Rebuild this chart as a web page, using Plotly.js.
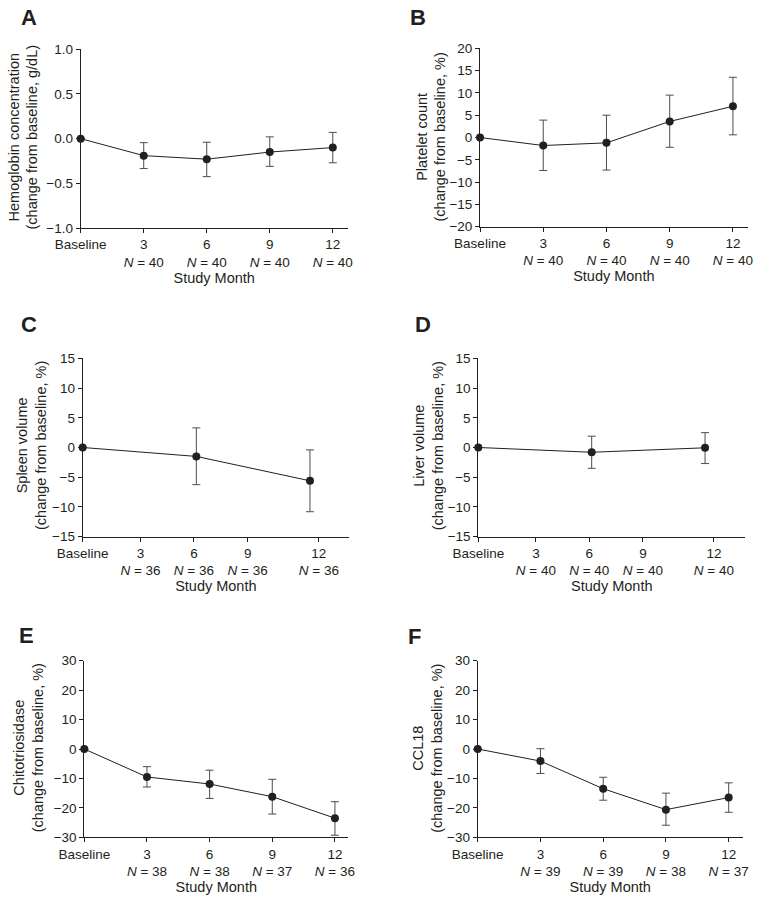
<!DOCTYPE html>
<html>
<head>
<meta charset="utf-8">
<script src="https://cdn.plot.ly/plotly-3.0.1.min.js"></script>
<style>html,body{margin:0;padding:0;background:#fff;}#chart{width:762px;height:901px;}</style>
</head>
<body>
<div id="chart"></div>
<script>
// ---------- data ----------
const monthsA = [0, 3, 6, 9, 12];
const monthsC = [0, 6, 12];

const tickMonths = ['Baseline', '3', '6', '9', '12'];
const nA = [null, 40, 40, 40, 40];
const nB = [null, 40, 40, 40, 40];
const nC = [null, 36, 36, 36, 36];
const nD = [null, 40, 40, 40, 40];
const nE = [null, 38, 38, 37, 36];
const nF = [null, 39, 39, 38, 37];

// Hemoglobin (g/dL change)
const hbMean = [0, -0.19, -0.23, -0.15, -0.10];
const hbHi   = [0, -0.045, -0.04, 0.02, 0.07];
const hbLo   = [0, -0.335, -0.425, -0.31, -0.27];
// Platelet (% change)
const pltMean = [0, -1.8, -1.2, 3.6, 7.0];
const pltHi   = [0, 3.9, 5.0, 9.5, 13.5];
const pltLo   = [0, -7.4, -7.3, -2.2, 0.6];
// Spleen volume (% change)
const splMean = [0, -1.5, -5.6];
const splHi   = [0, 3.3, -0.4];
const splLo   = [0, -6.25, -10.8];
// Liver volume (% change)
const livMean = [0, -0.8, -0.05];
const livHi   = [0, 1.9, 2.5];
const livLo   = [0, -3.5, -2.7];
// Chitotriosidase (% change)
const chiMean = [0, -9.5, -11.9, -16.2, -23.5];
const chiHi   = [0, -6.0, -7.2, -10.3, -17.9];
const chiLo   = [0, -12.9, -16.8, -22.1, -29.3];
// CCL18 (% change)
const cclMean = [0, -4.1, -13.5, -20.6, -16.5];
const cclHi   = [0, 0.1, -9.6, -15.0, -11.5];
const cclLo   = [0, -8.3, -17.4, -25.9, -21.5];

const yTitles = [
  'Hemoglobin concentration<br>(change from baseline, g/dL)',
  'Platelet count<br>(change from baseline, %)',
  'Spleen volume<br>(change from baseline, %)',
  'Liver volume<br>(change from baseline, %)',
  'Chitotriosidase<br>(change from baseline, %)',
  'CCL18<br>(change from baseline, %)'
];
const panelLetters = ['A', 'B', 'C', 'D', 'E', 'F'];

// ---------- styling ----------
const FONT = 'Liberation Sans, Arial, Helvetica, sans-serif';
const TXT = '#231f20';
const W = 762, H = 901;

function tickText(ns) {
  return tickMonths.map((m, i) => ns[i] == null ? m : m + '<br><i>N</i> = ' + ns[i]);
}

function trace(x, mean, hi, lo, xa, ya) {
  return {
    type: 'scatter', mode: 'lines+markers', x: x, y: mean,
    xaxis: xa, yaxis: ya, cliponaxis: false, showlegend: false,
    line: {color: TXT, width: 1},
    marker: {color: TXT, size: 8},
    error_y: {
      type: 'data', symmetric: false,
      array: hi.map((v, i) => v - mean[i]),
      arrayminus: mean.map((v, i) => v - lo[i]),
      color: '#4d4d4f', thickness: 1, width: 4
    }
  };
}

function xAxis(px0, px1, range, tickvals, ns, anchor) {
  return {
    domain: [px0 / W, px1 / W], range: range, anchor: anchor,
    tickmode: 'array', tickvals: tickvals, ticktext: tickText(ns),
    showline: true, linecolor: TXT, linewidth: 1,
    ticks: 'outside', ticklen: 4, tickcolor: TXT, tickwidth: 1,
    showgrid: false, zeroline: false,
    tickfont: {family: FONT, size: 13.5, color: TXT},
    title: {text: 'Study Month', font: {family: FONT, size: 14.5, color: TXT}, standoff: 1},
    fixedrange: true
  };
}

function yAxis(py0, py1, range, dtick, fmt, anchor) {
  return {
    domain: [1 - py1 / H, 1 - py0 / H], range: range, anchor: anchor,
    tickmode: 'linear', tick0: range[0], dtick: dtick, tickformat: fmt,
    showline: true, linecolor: TXT, linewidth: 1,
    ticks: 'outside', ticklen: 4, tickcolor: TXT, tickwidth: 1,
    showgrid: false, zeroline: false,
    tickfont: {family: FONT, size: 13.5, color: TXT},
    fixedrange: true
  };
}

const regTicks = [0, 3, 6, 9, 12];
const volTicks = [0, 3.05, 5.87, 8.71, 12.47];

const data = [
  trace(monthsA, hbMean, hbHi, hbLo, 'x', 'y'),
  trace(monthsA, pltMean, pltHi, pltLo, 'x2', 'y2'),
  trace(monthsC, splMean, splHi, splLo, 'x3', 'y3'),
  trace(monthsC, livMean, livHi, livLo, 'x4', 'y4'),
  trace(monthsA, chiMean, chiHi, chiLo, 'x5', 'y5'),
  trace(monthsA, cclMean, cclHi, cclLo, 'x6', 'y6')
];

function letter(t, px, py) {
  return {text: '<b>' + t + '</b>', xref: 'paper', yref: 'paper', x: px / W, y: 1 - py / H,
    xanchor: 'left', yanchor: 'middle', showarrow: false,
    font: {family: FONT, size: 22, color: TXT}};
}
function ytitle(t, px, py) {
  return {text: t, xref: 'paper', yref: 'paper', x: px / W, y: 1 - py / H,
    xanchor: 'center', yanchor: 'middle', showarrow: false, textangle: -90,
    font: {family: FONT, size: 14.5, color: TXT}};
}

const layout = {
  width: W, height: H, margin: {l: 0, r: 0, t: 0, b: 0},
  paper_bgcolor: '#fff', plot_bgcolor: '#fff', showlegend: false,
  xaxis:  xAxis(80.7, 347.7, [0, 12.71], regTicks, nA, 'y'),
  yaxis:  yAxis(49.3, 228, [-1, 1], 0.5, '.1f', 'x'),
  xaxis2: xAxis(480, 747.7, [0, 12.7], regTicks, nB, 'y2'),
  yaxis2: yAxis(48.3, 226.7, [-20, 20], 5, 'd', 'x2'),
  xaxis3: xAxis(82.7, 349, [0, 14.06], volTicks, nC, 'y3'),
  yaxis3: yAxis(358.3, 536.7, [-15, 15], 5, 'd', 'x3'),
  xaxis4: xAxis(478.3, 745.3, [0, 14.13], volTicks, nD, 'y4'),
  yaxis4: yAxis(358.3, 536.7, [-15, 15], 5, 'd', 'x4'),
  xaxis5: xAxis(84.3, 348.3, [0, 12.64], regTicks, nE, 'y5'),
  yaxis5: yAxis(660.7, 837.3, [-30, 30], 10, 'd', 'x5'),
  xaxis6: xAxis(477.7, 742.7, [0, 12.67], regTicks, nF, 'y6'),
  yaxis6: yAxis(660.7, 837.3, [-30, 30], 10, 'd', 'x6'),
  annotations: [
    letter(panelLetters[0], 19, 17.5), letter(panelLetters[1], 408, 17.5),
    letter(panelLetters[2], 19, 325), letter(panelLetters[3], 413, 325),
    letter(panelLetters[4], 17, 635), letter(panelLetters[5], 406, 636),
    ytitle(yTitles[0], 23.5, 137), ytitle(yTitles[1], 431, 136.5),
    ytitle(yTitles[2], 32, 446), ytitle(yTitles[3], 429.3, 446),
    ytitle(yTitles[4], 28.3, 748), ytitle(yTitles[5], 426.8, 748)
  ]
};

Plotly.newPlot('chart', data, layout, {displayModeBar: false, staticPlot: true});
</script>
</body>
</html>
